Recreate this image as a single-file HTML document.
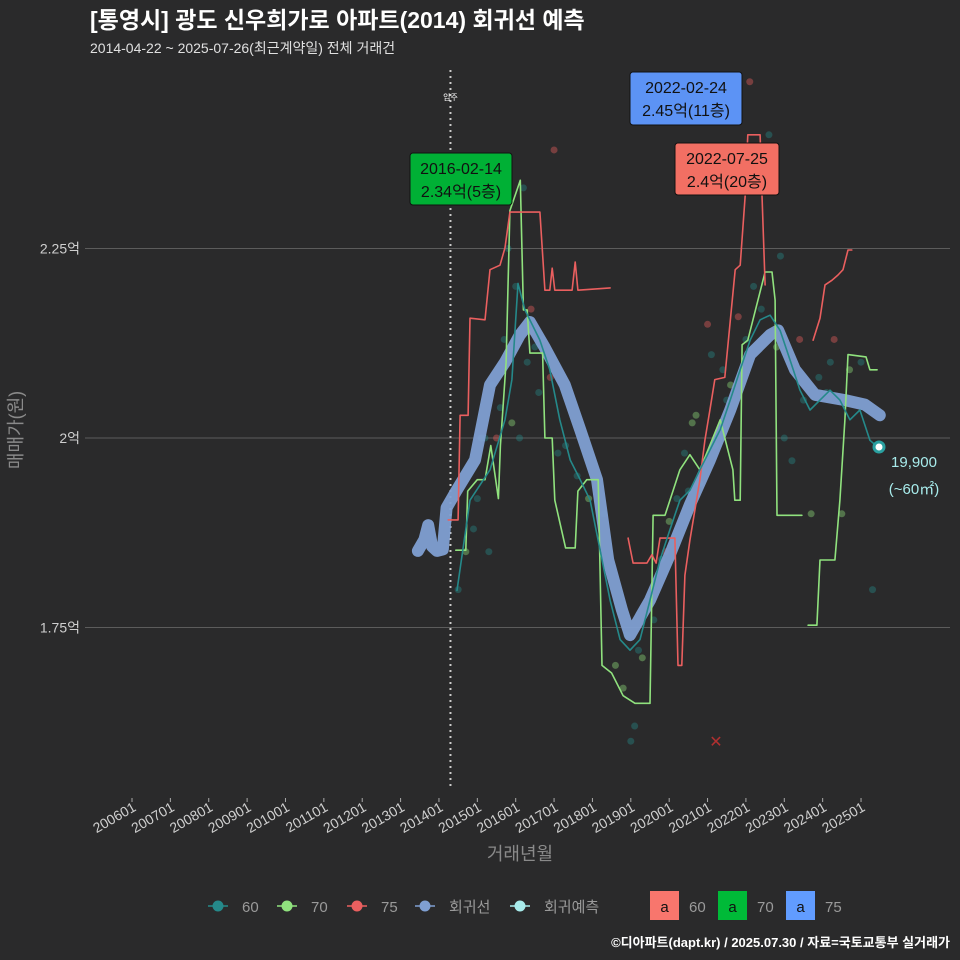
<!DOCTYPE html>
<html><head><meta charset="utf-8">
<style>
html,body{margin:0;padding:0;background:#2a2a2b;}
svg{display:block;font-family:"Liberation Sans","Noto Sans CJK KR",sans-serif;}
</style></head>
<body>
<svg id="chart" width="960" height="960" viewBox="0 0 960 960">
<rect width="960" height="960" fill="#2a2a2b"/>
<text x="90" y="28" font-size="23" font-weight="bold" fill="#ffffff">[통영시] 광도 신우희가로 아파트(2014) 회귀선 예측</text>
<text x="90" y="53" font-size="14" fill="#e0e0e0">2014-04-22 ~ 2025-07-26(최근계약일) 전체 거래건</text>
<g id="grid"></g>
<g id="axes"></g>
<g id="scatter"></g>
<g id="lines"></g>
<g id="annot"></g>
<text transform="translate(22,430) rotate(-90)" text-anchor="middle" font-size="18" fill="#8a8a8a">매매가(원)</text>
<text x="520" y="860" text-anchor="middle" font-size="18" fill="#8a8a8a">거래년월</text>
<g id="legend"></g>
<text x="950" y="947" text-anchor="end" font-size="13" font-weight="bold" fill="#ffffff">©디아파트(dapt.kr) / 2025.07.30 / 자료=국토교통부 실거래가</text>
</svg>
<script>
// ---- data ----
const yTicks = [1.75, 2.0, 2.25];
const yTickLabels = ["1.75억", "2억", "2.25억"];
const xTickYears = [2006,2007,2008,2009,2010,2011,2012,2013,2014,2015,2016,2017,2018,2019,2020,2021,2022,2023,2024,2025];
const xTickLabels = ["200601","200701","200801","200901","201001","201101","201201","201301","201401","201501","201601","201701","201801","201901","202001","202101","202201","202301","202401","202501"];
const regT = [2013.45,2013.62,2013.72,2013.82,2013.95,2014.10,2014.20,2014.44,2014.94,2015.33,2015.72,2016.11,2016.37,2016.76,2017.28,2017.68,2018.12,2018.41,2018.77,2018.98,2019.50,2020.02,2020.54,2021.06,2021.59,2022.11,2022.63,2022.84,2023.28,2023.80,2024.58,2025.10,2025.49];
const regV = [1.851,1.866,1.885,1.857,1.851,1.853,1.908,1.929,1.971,2.070,2.100,2.136,2.153,2.119,2.070,2.011,1.945,1.839,1.773,1.740,1.786,1.846,1.912,1.971,2.037,2.110,2.136,2.142,2.090,2.057,2.050,2.044,2.030];
const s60T = [2014.47,2014.81,2015.33,2015.72,2015.90,2016.06,2016.24,2016.63,2016.89,2017.15,2017.42,2017.68,2017.94,2018.20,2018.46,2018.72,2018.98,2019.24,2019.50,2019.76,2020.02,2020.28,2020.54,2020.80,2021.06,2021.33,2021.59,2021.85,2022.11,2022.37,2022.63,2022.89,2023.15,2023.41,2023.67,2023.93,2024.19,2024.45,2024.71,2024.97,2025.23,2025.44];
const s60V = [1.799,1.918,1.958,2.024,2.077,2.204,2.169,2.129,2.090,2.024,1.971,1.945,1.918,1.852,1.786,1.734,1.720,1.734,1.786,1.839,1.879,1.918,1.931,1.958,1.984,2.011,2.050,2.090,2.129,2.156,2.162,2.142,2.103,2.063,2.037,2.050,2.063,2.050,2.024,2.037,1.997,1.988];
const s70T = [2014.44,2014.70,2014.75,2015.00,2015.20,2015.35,2015.55,2015.60,2015.75,2015.85,2016.12,2016.20,2016.30,2016.37,2016.70,2016.76,2016.95,2017.02,2017.30,2017.55,2017.62,2017.85,2018.15,2018.25,2018.50,2018.80,2019.11,2019.50,2019.58,2019.89,2020.28,2020.54,2020.80,2021.33,2021.66,2021.71,2021.85,2021.90,2022.05,2022.50,2022.68,2022.76,2022.81,2023.46];
const s70V = [1.852,1.852,1.930,1.945,1.945,1.990,1.920,1.990,2.100,2.300,2.340,2.169,2.169,2.112,2.112,2.000,2.000,1.918,1.855,1.855,1.930,1.945,1.945,1.700,1.690,1.660,1.650,1.650,1.898,1.898,1.958,1.978,1.958,2.024,1.958,1.918,1.918,2.123,2.129,2.219,2.219,2.182,1.898,1.898];
const s70bT = [2023.62,2023.85,2023.93,2024.32,2024.45,2024.58,2024.66,2025.13,2025.23,2025.42];
const s70bV = [1.753,1.753,1.839,1.839,1.918,2.024,2.110,2.107,2.090,2.090];
const s75aT = [2014.24,2014.50,2014.55,2014.76,2014.81,2015.20,2015.33,2015.59,2015.72,2015.85,2016.63,2016.76,2016.89,2016.95,2017.02,2017.47,2017.55,2017.62,2018.46];
const s75aV = [1.892,1.892,2.030,2.030,2.158,2.156,2.222,2.228,2.251,2.298,2.298,2.195,2.195,2.224,2.195,2.195,2.232,2.195,2.198];
const s75bT = [2018.93,2019.06,2019.42,2019.55,2019.66,2019.76,2020.15,2020.23,2020.33,2020.41,2020.54,2020.80,2020.93,2021.06,2021.19,2021.45,2021.72,2021.85,2021.98,2022.05,2022.37,2022.42,2022.50];
const s75bV = [1.868,1.835,1.835,1.846,1.835,1.868,1.868,1.700,1.700,1.819,1.865,1.945,1.997,2.037,2.077,2.080,2.222,2.228,2.320,2.400,2.400,2.320,2.202];
const s75cT = [2023.75,2023.93,2024.06,2024.24,2024.40,2024.53,2024.66,2024.76];
const s75cV = [2.129,2.158,2.202,2.208,2.215,2.222,2.248,2.248];
const ptT = [2014.5,2014.7,2014.9,2015.0,2015.1,2015.3,2015.4,2015.5,2015.7,2015.8,2015.9,2016.0,2016.1,2016.2,2016.3,2016.4,2016.5,2016.7,2016.9,2017.1,2017.3,2017.6,2017.9,2018.3,2018.6,2018.8,2019.0,2019.1,2019.3,2019.6,2019.8,2020.0,2020.2,2020.4,2020.6,2020.8,2021.0,2021.2,2021.4,2021.6,2021.8,2022.0,2022.2,2022.4,2022.6,2022.8,2023.0,2023.2,2023.4,2023.7,2023.9,2024.1,2024.3,2024.5,2024.7,2025.0,2025.3,2025.5,2016.4,2017.0,2019.9,2020.7,2021.5,2022.1,2015.2,2015.6,2016.6,2018.9,2019.2,2020.5,2021.1,2022.9,2023.5,2024.2];
const ptV = [1.80,1.85,1.88,1.92,2.00,1.85,2.07,2.00,2.13,2.25,2.02,2.20,2.00,2.33,2.10,2.17,2.12,2.13,2.08,1.98,1.99,1.95,1.92,1.90,1.70,1.67,1.60,1.62,1.71,1.76,1.84,1.89,1.92,1.98,2.02,1.94,2.15,1.99,2.09,2.07,2.16,2.13,2.20,2.17,2.40,2.12,2.00,1.97,2.13,1.90,2.08,2.06,2.13,1.90,2.09,2.10,1.80,1.99,2.14,2.38,1.85,2.03,2.05,2.47,2.00,2.04,2.06,1.74,1.72,1.93,2.11,2.24,2.05,2.10];
const ptG = [0,1,0,0,1,0,0,2,0,0,1,0,0,0,0,2,0,0,2,0,0,0,1,0,1,1,0,0,1,0,0,1,0,0,1,1,2,0,0,1,2,0,0,0,0,1,0,0,2,1,0,0,2,1,1,0,0,0,2,2,2,1,0,2,0,0,0,0,0,0,0,0,0,0];

// ---- scales ----
const NS = "http://www.w3.org/2000/svg";
function X(t){ return 132 + (t - 2006) * 38.37; }
function Y(v){ return 438 - (v - 2) * 758; }
function mk(tag, attrs, parent){ const e=document.createElementNS(NS,tag); for(const k in attrs) e.setAttribute(k, attrs[k]); parent.appendChild(e); return e; }
const cols = ["#25898a","#90e27e","#ea5f5f"];

const grid=document.getElementById('grid');
yTicks.forEach((v,i)=>{
  const l=mk('line',{x1:85,x2:950,y1:Y(v),y2:Y(v),stroke:'#5c5c5c','stroke-width':1},grid);
  
  
  const t=mk('text',{x:80,y:Y(v)+5,'text-anchor':'end','font-size':14,fill:'#cfcfcf'},grid);
  t.textContent=yTickLabels[i];
  
  
});
const axes=document.getElementById('axes');
xTickYears.forEach((yr,i)=>{
  const x=X(yr);
  const tk=mk('line',{x1:x,x2:x,y1:798,y2:802,stroke:'#aaaaaa'},axes);
  
  
  const t=mk('text',{x:x+5,y:810,'text-anchor':'end','font-size':14,fill:'#cfcfcf',transform:`rotate(-30 ${x+5} 810)`},axes);
  t.textContent=xTickLabels[i];
  
  
});
const vx=X(2014.3);
const dl=mk('line',{x1:vx,x2:vx,y1:70,y2:790,stroke:'#cccccc','stroke-width':2,'stroke-dasharray':'2,4'},axes);


const dt=mk('text',{x:vx,y:100,'text-anchor':'middle','font-size':8,fill:'#ffffff'},axes);
dt.textContent='입주';



const sc=document.getElementById('scatter');
ptT.forEach((t,i)=>{
  const c=mk('circle',{cx:X(t),cy:Y(ptV[i]),r:3.5,fill:cols[ptG[i]],'fill-opacity':0.4},sc);
  
  
});

const lg=document.getElementById('lines');
function path(T,V,color,w,name,op){
  const d=T.map((t,i)=>(i?'L':'M')+X(t).toFixed(1)+','+Y(V[i]).toFixed(1)).join('');
  const p=mk('path',{d:d,fill:'none',stroke:color,'stroke-width':w,'stroke-linejoin':'round','stroke-linecap':'round','stroke-opacity':op||1},lg);
  
  
}
path(regT,regV,'#7f9fd2',12,'regression-line',0.95);
path(s70T,s70V,cols[1],1.6,'series-70-line');
path(s70bT,s70bV,cols[1],1.6,'series-70-line-2');
path(s75aT,s75aV,cols[2],1.6,'series-75-line');
path(s75bT,s75bV,cols[2],1.6,'series-75-line-2');
path(s75cT,s75cV,cols[2],1.6,'series-75-line-3');
path(s60T,s60V,cols[0],1.6,'series-60-line');

const an=document.getElementById('annot');
function box(x,y,w,h,fill,l1,l2,name){
  const g=mk('g',{},an);
  
  
  mk('rect',{x:x,y:y,width:w,height:h,rx:3,fill:fill,stroke:'#111','stroke-width':1},g);
  const a=mk('text',{x:x+w/2,y:y+21,'text-anchor':'middle','font-size':16,fill:'#111'},g); a.textContent=l1;
  const b=mk('text',{x:x+w/2,y:y+44,'text-anchor':'middle','font-size':16,fill:'#111'},g); b.textContent=l2;
}
box(410,153,102,52,'#00b035','2016-02-14','2.34억(5층)','annotation-70');
box(630,72,112,53,'#5c93f5','2022-02-24','2.45억(11층)','annotation-75-blue');
box(675,143,104,52,'#f26f63','2022-07-25','2.4억(20층)','annotation-75-red');
const lp=mk('circle',{cx:879,cy:447,r:5,fill:'#ffffff',stroke:'#2aa0a0','stroke-width':3},an);


const l1=mk('text',{x:914,y:467,'text-anchor':'middle','font-size':15,fill:'#a8ecec'},an); l1.textContent='19,900';


const l2=mk('text',{x:914,y:494,'text-anchor':'middle','font-size':15,fill:'#a8ecec'},an); l2.textContent='(~60㎡)';


const xm=mk('text',{x:716,y:747,'text-anchor':'middle','font-size':16,fill:'#b03030'},an); xm.textContent='✕';



const lgd=document.getElementById('legend');
const items=[['60','#25898a',218],['70','#90e27e',287],['75','#ea5f5f',357],['회귀선','#7f9fd2',425],['회귀예측','#a8ecec',520]];
items.forEach(it=>{
  const g=mk('g',{},lgd);
  
  
  mk('line',{x1:it[2]-10,x2:it[2]+10,y1:906,y2:906,stroke:it[1],'stroke-width':1.5},g);
  mk('circle',{cx:it[2],cy:906,r:5.5,fill:it[1]},g);
  const t=mk('text',{x:it[2]+24,y:912,'font-size':15,fill:'#9a9a9a'},g); t.textContent=it[0];
});
const boxes=[['60','#f8766d',650],['70','#00ba38',718],['75','#619cff',786]];
boxes.forEach(b=>{
  const g=mk('g',{},lgd);
  
  
  mk('rect',{x:b[2],y:891,width:29,height:29,fill:b[1]},g);
  const a=mk('text',{x:b[2]+14.5,y:912,'text-anchor':'middle','font-size':15,fill:'#111'},g); a.textContent='a';
  const t=mk('text',{x:b[2]+39,y:912,'font-size':15,fill:'#9a9a9a'},g); t.textContent=b[0];
});
</script>
</body></html>
